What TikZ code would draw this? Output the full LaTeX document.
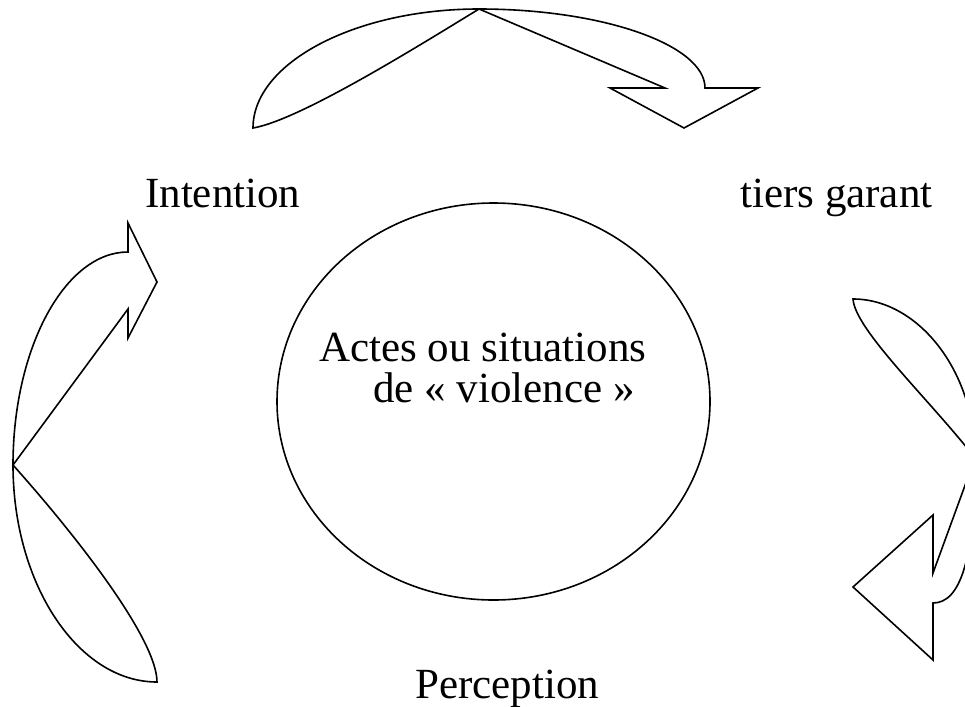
\documentclass[tikz,border=0pt]{standalone}
\usepackage{fontspec}
\setmainfont{Liberation Serif}
\begin{document}
\begin{tikzpicture}[x=1pt,y=-1pt,
  lbl/.style={anchor=base west,inner sep=0pt,font=\fontsize{43}{48}\selectfont},
  shp/.style={draw=black,line width=1.6pt,line join=miter,fill=white}]
\useasboundingbox (0,0) rectangle (965,706);
\clip (0,0) rectangle (965,706);
% centre ellipse
\draw[shp] (493.5,401.5) ellipse [x radius=216.5,y radius=198.5];
% top curved arrow
\draw[shp] (253,128) .. controls (253,63) and (355,9) .. (479,9)
  .. controls (603,9) and (705,45) .. (705,88)
  -- (758,88) -- (684,128) -- (610,88) -- (665,88) -- (479,9)
  .. controls (420,45) and (300,120) .. (253,128) -- cycle;
% left curved arrow
\draw[shp] (157,682) .. controls (78,682) and (13,584) .. (13,465)
  .. controls (13,348) and (65,252) .. (128,252)
  -- (128,223) -- (157,282) -- (128,338) -- (128,309) -- (13,465)
  .. controls (80,540) and (157,640) .. (157,682) -- cycle;
% right curved arrow
\draw[shp] (853,299) .. controls (918,299) and (975,371) .. (975,458)
  .. controls (975,560) and (960,603) .. (933,603)
  -- (933,660) -- (853,587) -- (933,515) -- (933,573) -- (975,458)
  .. controls (930,400) and (855,330) .. (853,299) -- cycle;
% labels
\node[lbl] (intention) at (145,207) {Intention};
\node[lbl] (tiers) at (740,207) {tiers garant};
\node[lbl] (actes) at (319,361) {Actes ou situations};
\node[lbl] (violence) at (373,402) {de «~violence~»};
\node[lbl] (perception) at (415,698) {Perception};
\end{tikzpicture}
\end{document}
